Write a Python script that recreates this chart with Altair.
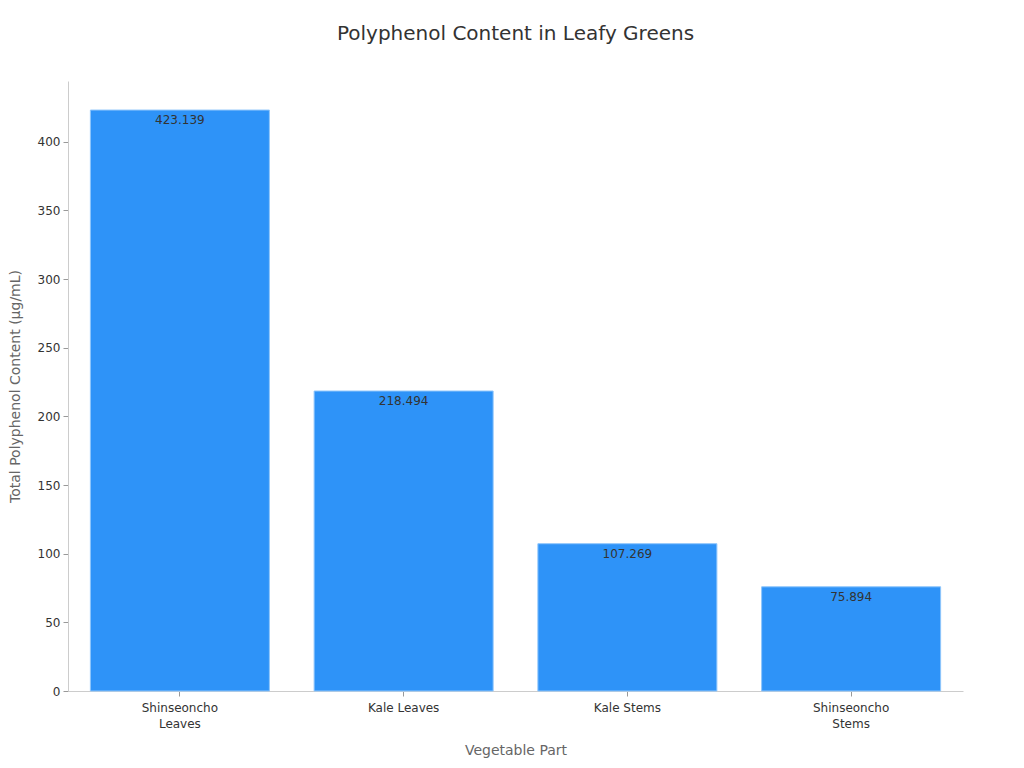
import altair as alt
import pandas as pd

parts = ["Shinseoncho Leaves", "Kale Leaves", "Kale Stems", "Shinseoncho Stems"]
values = [423.139, 218.494, 107.269, 75.894]
labels = ["423.139", "218.494", "107.269", "75.894"]

df = pd.DataFrame({"part": parts, "value": values, "label": labels})

FONT = "DejaVu Sans"

x = alt.X(
    "part:N",
    sort=parts,
    title="Vegetable Part",
    scale=alt.Scale(paddingInner=0.2, paddingOuter=0.1),
    axis=alt.Axis(
        labelAngle=0,
        labelExpr="datum.label == 'Shinseoncho Leaves' ? ['Shinseoncho', 'Leaves'] : datum.label == 'Shinseoncho Stems' ? ['Shinseoncho', 'Stems'] : datum.label",
        labelFontSize=12,
        labelColor="#333333",
        labelPadding=6,
        labelLineHeight=16,
        titleFontSize=14,
        titleColor="#666666",
        titleFontWeight="normal",
        titlePadding=14,
        domainColor="#cccccc",
        tickColor="#999999",
        tickSize=5,
    ),
)

y = alt.Y(
    "value:Q",
    title="Total Polyphenol Content (μg/mL)",
    scale=alt.Scale(domain=[0, 444.3], nice=False),
    axis=alt.Axis(
        values=[0, 50, 100, 150, 200, 250, 300, 350, 400],
        grid=False,
        labelFontSize=12,
        labelColor="#333333",
        labelPadding=3,
        titleFontSize=14,
        titleColor="#666666",
        titleFontWeight="normal",
        titlePadding=15,
        domainColor="#cccccc",
        tickColor="#999999",
        tickSize=5,
    ),
)

bars = alt.Chart(df).mark_bar(
    color="#2e93f8", stroke="#8ec5fb", strokeWidth=1
).encode(x=x, y=y)

text = alt.Chart(df).mark_text(
    baseline="top", dy=5, fontSize=12, color="#333333", font=FONT
).encode(x=alt.X("part:N", sort=parts), y="value:Q", text="label:N")

chart = (
    alt.layer(bars, text)
    .properties(
        width=895,
        height=610,
        title=alt.TitleParams(
            "Polyphenol Content in Leafy Greens",
            fontSize=20,
            fontWeight="normal",
            color="#333333",
            anchor="middle",
            offset=37,
        ),
        autosize=alt.AutoSizeParams(type="none"),
        padding={"left": 60, "top": 73, "right": 53, "bottom": 69},
    )
    .configure(font=FONT)
    .configure_view(stroke=None)
)

chart.save("out.html", embed_options={"renderer": "svg", "actions": False})
